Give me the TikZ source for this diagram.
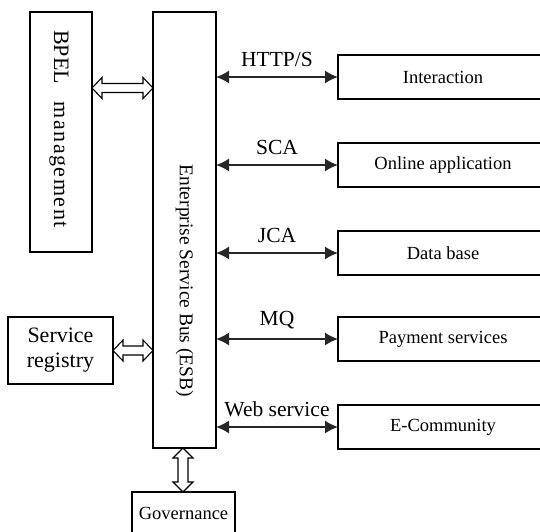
\documentclass[tikz,border=0pt]{standalone}
\usepackage{fontspec}
\setmainfont{Liberation Serif}
\usetikzlibrary{arrows.meta,calc}

% flecha doble hueca (horizontal y vertical)
\newcommand{\harrow}[2]{\draw[dbl] (#1) -- ($(#1)+(10,-10.5)$) -- ($(#1)+(10,-4.5)$) -- ($(#2)+(-10,-4.5)$) -- ($(#2)+(-10,-10.5)$) -- (#2) -- ($(#2)+(-10,10.5)$) -- ($(#2)+(-10,4.5)$) -- ($(#1)+(10,4.5)$) -- ($(#1)+(10,10.5)$) -- cycle;}
\newcommand{\varrow}[2]{\draw[dbl] (#1) -- ($(#1)+(-10,10)$) -- ($(#1)+(-5,10)$) -- ($(#2)+(-5,-10)$) -- ($(#2)+(-10,-10)$) -- (#2) -- ($(#2)+(10,-10)$) -- ($(#2)+(5,-10)$) -- ($(#1)+(5,10)$) -- ($(#1)+(10,10)$) -- cycle;}

\begin{document}
\begin{tikzpicture}[x=1pt,y=-1pt]
	\tikzstyle{box} = [draw, line width=1.3pt, inner sep=0pt, outer sep=0pt, anchor=north west]
	\tikzstyle{line} = [draw, line width=1.6pt, black!85, {Latex[length=13pt,width=13pt]}-{Latex[length=13pt,width=13pt]}]
	\tikzstyle{dbl} = [line width=1.1pt, line join=miter, fill=white]
	\tikzstyle{proto} = [font=\fontsize{21.5}{24}\selectfont, above=6pt, midway, black]
	\tikzstyle{svc} = [box, minimum width=210pt, minimum height=44pt, font=\fontsize{18.5}{22}\selectfont]

	\useasboundingbox (0,0) rectangle (540,531);
	\clip (0,0) rectangle (540,531);

	% Bloques de la izquierda
	\node[box, minimum width=62pt, minimum height=240pt] (bpel) at (30,12) {};
	\node[rotate=-90, font=\fontsize{22}{24}\selectfont] (bpeltxt) at ([xshift=-2pt,yshift=3pt]bpel.center) {BPEL\hspace{0.8em}{\addfontfeature{LetterSpace=7}management}};
	\node[box, minimum width=63pt, minimum height=436pt] (esb) at (153,12) {};
	\node[rotate=-90, font=\fontsize{19.5}{22}\selectfont] (esbtxt) at (184.5,281) {Enterprise Service Bus (ESB)};
	\node[box, minimum width=105pt, minimum height=67pt, align=center, font=\fontsize{22}{25}\selectfont] (reg) at (8,317) {Service\\registry};
	\node[box, minimum width=103pt, minimum height=42pt, font=\fontsize{18.5}{22}\selectfont] (gov) at (132,492) {Governance};

	% Servicios de la derecha
	\node[svc] (inter) at (338,55) {Interaction};
	\node[svc] (online) at (338,143) {Online application};
	\node[svc] (data) at (338,231) {Data base};
	\node[svc] (pay) at (338,317) {Payment services};
	\node[svc] (ecom) at (338,405) {E-Community};

	% Flechas de protocolos
	\path [line] (esb.east |- inter.west) -- (inter.west) node[proto] {HTTP/S};
	\path [line] (esb.east |- online.west) -- (online.west) node[proto] {SCA};
	\path [line] (esb.east |- data.west) -- (data.west) node[proto] {JCA};
	\path [line] (esb.east |- pay.west) -- (pay.west) node[proto] {MQ};
	\path [line] (esb.east |- ecom.west) -- (ecom.west) node[proto] {Web service};

	% Flechas dobles
	\coordinate (b1) at ([yshift=44pt]bpel.east);
	\coordinate (b2) at (b1 -| esb.west);
	\harrow{b1}{b2}
	\coordinate (r2) at (reg.east -| esb.west);
	\harrow{reg.east}{r2}
	\coordinate (g1) at ([xshift=-1.5pt]esb.south);
	\coordinate (g2) at (g1 |- gov.north);
	\varrow{g1}{g2}
\end{tikzpicture}
\end{document}
